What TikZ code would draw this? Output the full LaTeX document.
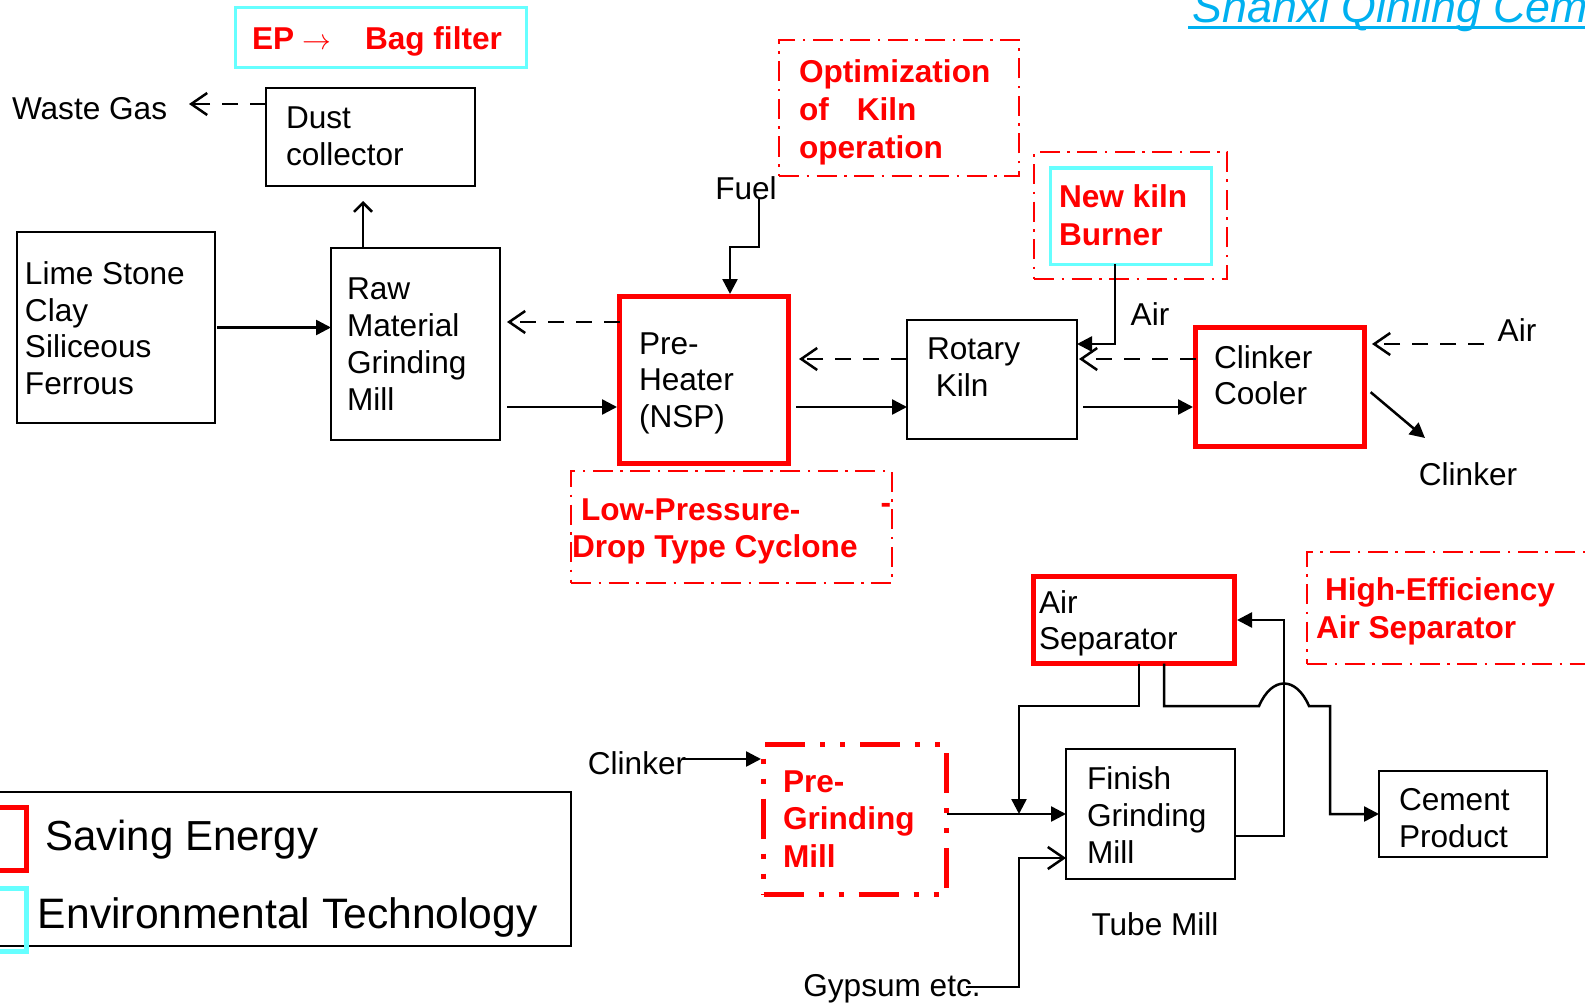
\documentclass[tikz,border=0pt]{standalone}
\usepackage{fontspec}
\setmainfont{Liberation Sans}
\usetikzlibrary{arrows.meta}
\definecolor{rd}{RGB}{255,0,0}
\definecolor{cy}{HTML}{66FFFF}
\definecolor{tl}{HTML}{00B0F0}
\begin{document}
\begin{tikzpicture}[x=0.5pt,y=-0.5pt,
  boxbase/.style={inner sep=0pt, outer sep=0pt},
  blkbox/.style 2 args={boxbase, draw=black, line width=1.25pt, minimum width=#1*0.5pt, minimum height=#2*0.5pt},
  redbox/.style 2 args={boxbase, draw=rd, line width=2.5pt, minimum width=#1*0.5pt, minimum height=#2*0.5pt},
  cybox/.style 2 args={boxbase, draw=cy, line width=1.5pt, minimum width=#1*0.5pt, minimum height=#2*0.5pt},
  ddbox/.style 2 args={boxbase, draw=rd, line width=1.3pt, dash pattern=on 10pt off 3.75pt on 1.25pt off 3.75pt, minimum width=#1*0.5pt, minimum height=#2*0.5pt},
  ddthick/.style 2 args={boxbase, draw=rd, line width=2.5pt, dash pattern=on 20pt off 7.5pt on 2.5pt off 7.5pt on 2.5pt off 7.5pt, minimum width=#1*0.5pt, minimum height=#2*0.5pt},
  txt/.style={inner sep=0pt, outer sep=0pt, align=left, text depth=0pt, font=\fontsize{15.8pt}{18.4pt}\selectfont},
  btxt/.style={txt, text=rd, font=\fontsize{15.8pt}{18.8pt}\selectfont\bfseries},
  conn/.style={line width=1.25pt, draw=black},
  arrF/.style={conn, -{Triangle[length=7.5pt,width=7.5pt]}},
  arrO/.style={conn, -{Straight Barb[length=8pt,width=11pt]}},
  arrOs/.style={conn, -{Straight Barb[length=4.5pt,width=9pt]}},
  dsh/.style={dash pattern=on 8pt off 6pt}
]
\useasboundingbox (0,0) rectangle (1585,1006);
\clip (0,0) rectangle (1585,1006);

% ---------- title ----------
\node[anchor=base west, inner sep=0pt, text=tl, font=\fontsize{22.4pt}{27pt}\selectfont\itshape] (title) at (1192,23) {Shanxi Qinling Cement};
\draw[tl, line width=1.2pt] (1188,27.5) -- (1600,27.5);

% ---------- top row ----------
\node[cybox={291}{60}] (ep) at (380.5,38) {};
\node[btxt, anchor=west] (tep) at (252,38) {\makebox[56.5pt][l]{EP $\rightarrow$}Bag filter};

\node[txt, anchor=west] (wg) at (12,108) {Waste Gas};
\node[blkbox={209}{98}] (dust) at (370.5,137) {};
\node[txt, anchor=west] (tdust) at (286,136) {Dust\\collector};

\node[blkbox={198}{191}] (lime) at (116,327.5) {};
\node[txt, anchor=west] (tlime) at (25,328) {Lime Stone\\Clay\\Siliceous\\Ferrous};

\node[blkbox={169}{192}] (raw) at (415.5,344) {};
\node[txt, anchor=west] (traw) at (347,344) {Raw\\Material\\Grinding\\Mill};

\node[redbox={169}{167}] (ph) at (704,380) {};
\node[txt, anchor=west] (tph) at (639,380) {Pre-\\Heater\\(NSP)};

\node[txt] (fuel) at (746,188) {Fuel};

\node[ddbox={240}{136}] (opt) at (899,108) {};
\node[btxt, anchor=west] (topt) at (799,109) {Optimization\\of\hspace{14pt}Kiln\\operation};

\node[ddbox={193}{127}] (burnO) at (1130.5,215.5) {};
\node[cybox={161}{96}] (burnI) at (1130.5,216) {};
\node[btxt, anchor=west] (tburn) at (1059,215) {New kiln\\Burner};

\node[blkbox={170}{119}] (kiln) at (992,379.5) {};
\node[txt, anchor=west] (tkiln) at (927,367) {Rotary\\\hspace*{4.4pt}Kiln};

\node[redbox={169}{119}] (cooler) at (1280,387) {};
\node[txt, anchor=west] (tcooler) at (1214,375) {Clinker\\Cooler};

\node[txt] (air1) at (1150,314) {Air};
\node[txt] (air2) at (1517,330) {Air};
\node[txt] (clk1) at (1468,474) {Clinker};

\node[ddbox={321}{112}] (lpc) at (731.5,527) {};
\node[btxt, anchor=west] (tlpc) at (572,528) {\hspace*{4.5pt}Low-Pressure-\\Drop Type Cyclone};
\node[btxt] (tlpc2) at (886,508) {-};

% ---------- bottom row ----------
\node[redbox={201}{87}] (as) at (1134,620) {};
\node[txt, anchor=west] (tas) at (1039,620) {Air\\Separator};

\node[ddbox={303}{112}] (hea) at (1458.5,608) {};
\node[btxt, anchor=west] (thea) at (1316,608) {\hspace*{4.5pt}High-Efficiency\\Air Separator};

\node[blkbox={169}{130}] (fgm) at (1150.5,814) {};
\node[txt, anchor=west] (tfgm) at (1087,815) {Finish\\Grinding\\Mill};
\node[txt] (tube) at (1155,924) {Tube Mill};

\node[blkbox={168}{86}] (cem) at (1463,814) {};
\node[txt, anchor=west] (tcem) at (1399,818) {Cement\\Product};

\node[ddthick={183}{150}] (pgm) at (855,819.5) {};
\node[btxt, anchor=west] (tpgm) at (783,819) {Pre-\\Grinding\\Mill};

\node[txt] (clk2) at (637,763) {Clinker};
\node[txt] (gyp) at (892,985) {Gypsum etc.};

% ---------- legend ----------
\node[blkbox={581}{154}] (legend) at (280.5,869) {};
\node[redbox={63}{63}] (lgR) at (-5,839) {};
\node[cybox={63}{63}, line width=2.5pt] (lgC) at (-5,919.5) {};
\node[txt, anchor=west, font=\fontsize{21pt}{25pt}\selectfont] (tlgR) at (45,835) {Saving Energy};
\node[txt, anchor=west, font=\fontsize{21.3pt}{25pt}\selectfont] (tlgC) at (38,913) {Environmental Technology};

% ---------- free ends ----------
\coordinate (wgEnd) at (189,104);
\coordinate (rawUp) at (363,201);
\coordinate (fuelTop) at (759,198);
\coordinate (airStart) at (1484,344);
\coordinate (clkEnd) at (1425,438);
\coordinate (clkStart) at (682,759);
\coordinate (gypStart) at (966,987);

% ---------- connectors ----------
\draw[arrO, dsh] (dust.west |- wgEnd) -- (wgEnd);
\draw[arrOs] (raw.north -| rawUp) -- (rawUp);
\draw[arrF, shorten <=1pt] (lime.east) -- (lime.east -| raw.west);
\draw[arrO, dsh, shorten >=3.5pt] (ph.west |- 0,322) -- (raw.east |- 0,322);
\draw[arrF, shorten <=3.5pt, shorten >=1.25pt] (raw.east |- 0,407) -- (ph.west |- 0,407);
\draw[arrF, shorten >=1.25pt] (fuelTop) |- (730,247) -- (730,0 |- ph.north);
\draw[arrO, dsh, shorten >=5.25pt] (kiln.west |- 0,359) -- (ph.east |- 0,359);
\draw[arrF, shorten <=3.75pt] (ph.east |- 0,407) -- (kiln.west |- 0,407);
\draw[arrF] (1115,0 |- burnI.south) |- (kiln.east |- 0,344);
\draw[arrO, dsh, shorten >=1pt] (cooler.west |- 0,359) -- (kiln.east |- 0,359);
\draw[arrF, shorten <=3pt, shorten >=1.25pt] (kiln.east |- 0,407) -- (cooler.west |- 0,407);
\draw[arrO, dsh, shorten >=3.75pt] (airStart) -- (cooler.east |- airStart);
\draw[arrF, shorten <=4pt] (cooler.east) -- (clkEnd);

\draw[arrF] (1139,0 |- as.south) |- (1019,706) -- (1019,0 |- fgm.west);
\draw[arrF] (1164,0 |- as.south) |- (1259,706) .. controls (1272,676) and (1296,676) .. (1309,706) -- (1330,706) |- (cem.west);
\draw[arrF, shorten >=1.25pt] (fgm.east |- 0,836) -| (1284,0 |- as.east) -- (as.east);
\draw[arrF] (pgm.east |- fgm.west) -- (fgm.west);
\draw[arrF, shorten >=1.25pt] (clkStart) -- (pgm.west |- clkStart);
\draw[arrO] (gypStart) -- (1019,987) |- (fgm.west |- 0,858);
\end{tikzpicture}
\end{document}
